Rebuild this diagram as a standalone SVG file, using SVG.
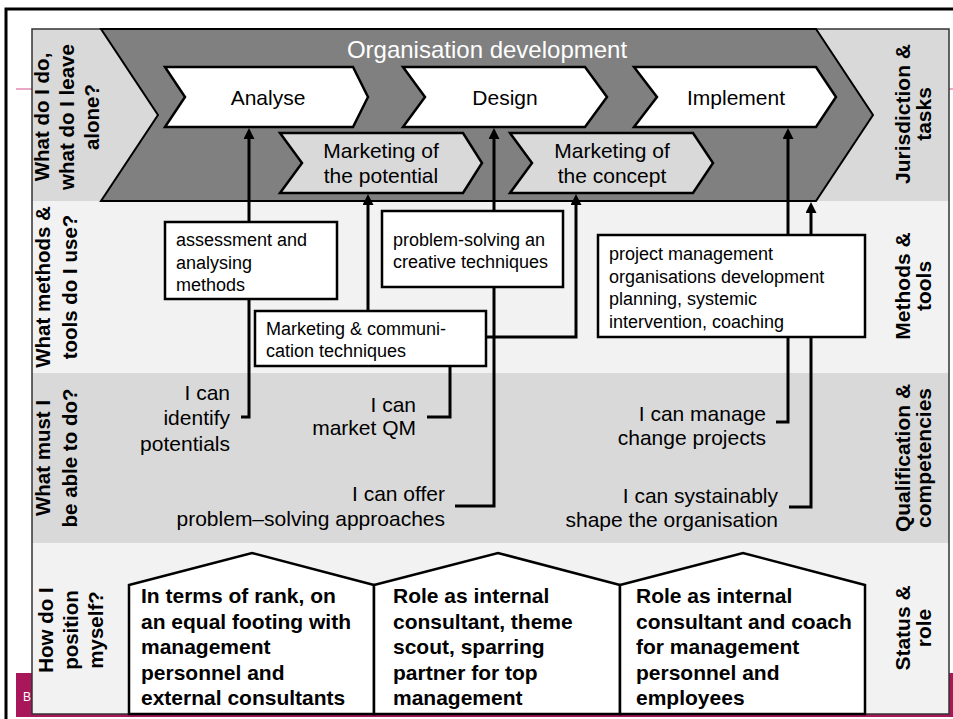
<svg xmlns="http://www.w3.org/2000/svg" width="953" height="719" viewBox="0 0 953 719">
<style>
text{font-family:"Liberation Sans",Arial,sans-serif;fill:#000}
.lbl{font-size:20.5px;font-weight:bold}
.rlbl{font-size:21px;font-weight:bold}
.t21{font-size:21px}
.t18{font-size:18px}
.house{font-size:21px;font-weight:bold}
.chev{fill:#fff;stroke:#000;stroke-width:2.5;stroke-linejoin:miter}
.mchev{fill:#d9d9d9;stroke:#000;stroke-width:2.5}
.box{fill:#fff;stroke:#000;stroke-width:2.5}
.conn{fill:none;stroke:#000;stroke-width:3}
</style>
<defs>
<marker id="ah" markerUnits="userSpaceOnUse" markerWidth="12" markerHeight="12" refX="0" refY="5.5" orient="auto">
<path d="M0,0 L11,5.5 L0,11 z" fill="#000"/>
</marker>
</defs>
<rect width="953" height="719" fill="#fff"/>
<g id="frame">
<rect x="16" y="673" width="940" height="44" fill="#a8175a"/>
<text x="23" y="701" style="font-size:12px;fill:#fff">B</text>
<line x1="16" y1="89" x2="953" y2="89" stroke="#d0508c" stroke-width="1"/>
<rect x="6" y="9" width="960" height="720" fill="none" stroke="#000" stroke-width="3"/>
<rect x="32" y="29" width="917" height="172" fill="#d9d9d9"/>
<rect x="32" y="201" width="917" height="172" fill="#f2f2f2"/>
<rect x="32" y="373" width="917" height="170" fill="#d9d9d9"/>
<rect x="32" y="543" width="917" height="171" fill="#f2f2f2"/>
<rect x="32" y="29" width="917" height="685" fill="none" stroke="#333" stroke-width="1.5"/>
</g>
<g id="row-labels">
<text class="lbl" text-anchor="middle" transform="translate(49,117) rotate(-90)"><tspan x="0" y="0">What do I do,</tspan><tspan x="0" y="25">what do I leave</tspan><tspan x="0" y="50">alone?</tspan></text>
<text class="lbl" text-anchor="middle" transform="translate(50,287) rotate(-90)"><tspan x="0" y="0">What methods &amp;</tspan><tspan x="0" y="27">tools do I use?</tspan></text>
<text class="lbl" text-anchor="middle" transform="translate(50,458) rotate(-90)"><tspan x="0" y="0">What must I</tspan><tspan x="0" y="27">be able to do?</tspan></text>
<text class="lbl" text-anchor="middle" transform="translate(53,630) rotate(-90)"><tspan x="0" y="0">How do I</tspan><tspan x="0" y="25">position</tspan><tspan x="0" y="50">myself?</tspan></text>
<text class="rlbl" text-anchor="middle" transform="translate(910,114) rotate(-90)"><tspan x="0" y="0">Jurisdiction &amp;</tspan><tspan x="0" y="21">tasks</tspan></text>
<text class="rlbl" text-anchor="middle" transform="translate(910,286) rotate(-90)"><tspan x="0" y="0">Methods &amp;</tspan><tspan x="0" y="21">tools</tspan></text>
<text class="rlbl" text-anchor="middle" transform="translate(910,458) rotate(-90)"><tspan x="0" y="0">Qualification &amp;</tspan><tspan x="0" y="21">competencies</tspan></text>
<text class="rlbl" text-anchor="middle" transform="translate(910,628) rotate(-90)"><tspan x="0" y="0">Status &amp;</tspan><tspan x="0" y="21">role</tspan></text>
</g>
<g id="org-development">
<polygon points="101,29 816,29 873,115 816,201 101,201 158,115" fill="#808080" stroke="#000" stroke-width="2"/>
<text x="487" y="58" text-anchor="middle" style="font-size:24px;fill:#fff">Organisation development</text>
</g>
<g id="analyse">
<polygon class="chev" points="165,67 353,67 368,97 353,127 165,127 185,97"/>
<text class="t21" x="268" y="105" text-anchor="middle">Analyse</text>
</g>
<g id="design">
<polygon class="chev" points="403,67 585,67 607,97 585,127 403,127 425,97"/>
<text class="t21" x="505" y="105" text-anchor="middle">Design</text>
</g>
<g id="implement">
<polygon class="chev" points="634,67 816,67 836,97 816,127 634,127 657,97"/>
<text class="t21" x="736" y="105" text-anchor="middle">Implement</text>
</g>
<g id="marketing-potential">
<polygon class="mchev" points="280,133 463,133 482,163 463,193 280,193 302,163"/>
<text class="t21" x="381" y="158" text-anchor="middle">Marketing of</text>
<text class="t21" x="381" y="183" text-anchor="middle">the potential</text>
</g>
<g id="marketing-concept">
<polygon class="mchev" points="510,133 693,133 713,163 693,193 510,193 532,163"/>
<text class="t21" x="612" y="158" text-anchor="middle">Marketing of</text>
<text class="t21" x="612" y="183" text-anchor="middle">the concept</text>
</g>
<g id="connectors">
<path class="conn" d="M241,417 H249 V139" marker-end="url(#ah)"/>
<path class="conn" d="M368,311 V205" marker-end="url(#ah)"/>
<path class="conn" d="M486,337 H576 V205" marker-end="url(#ah)"/>
<path class="conn" d="M427,417 H450 V366"/>
<path class="conn" d="M455,506 H494 V139" marker-end="url(#ah)"/>
<path class="conn" d="M776,422 H788 V139" marker-end="url(#ah)"/>
<path class="conn" d="M789,507 H811 V213" marker-end="url(#ah)"/>
</g>
<g id="assessment-box">
<rect class="box" x="165" y="222" width="172" height="77"/>
<text class="t18" x="176" y="246">assessment and</text>
<text class="t18" x="176" y="268.5">analysing</text>
<text class="t18" x="176" y="291">methods</text>
</g>
<g id="problem-solving-box">
<rect class="box" x="382" y="211" width="181" height="76"/>
<text class="t18" x="393" y="246">problem-solving an</text>
<text class="t18" x="393" y="268">creative techniques</text>
</g>
<g id="marketing-comm-box">
<rect class="box" x="255" y="311" width="231" height="55"/>
<text class="t18" x="266" y="335">Marketing &amp; communi-</text>
<text class="t18" x="266" y="357">cation techniques</text>
</g>
<g id="project-box">
<rect class="box" x="598" y="235" width="267" height="102"/>
<text class="t18" x="609" y="260">project management</text>
<text class="t18" x="609" y="282.5">organisations development</text>
<text class="t18" x="609" y="305">planning, systemic</text>
<text class="t18" x="609" y="328">intervention, coaching</text>
</g>
<g id="competencies">
<text class="t21" text-anchor="end" x="230" y="400">I can</text>
<text class="t21" text-anchor="end" x="230" y="425">identify</text>
<text class="t21" text-anchor="end" x="230" y="451">potentials</text>
<text class="t21" text-anchor="end" x="416" y="412">I can</text>
<text class="t21" text-anchor="end" x="416" y="435">market QM</text>
<text class="t21" text-anchor="end" x="445" y="501">I can offer</text>
<text class="t21" text-anchor="end" x="445" y="526">problem–solving approaches</text>
<text class="t21" text-anchor="end" x="766" y="421">I can manage</text>
<text class="t21" text-anchor="end" x="766" y="445">change projects</text>
<text class="t21" text-anchor="end" x="778" y="503">I can systainably</text>
<text class="t21" text-anchor="end" x="778" y="527">shape the organisation</text>
</g>
<g id="house-1">
<polygon class="box" points="129,714 129,585 252,553 374,585 374,714"/>
<text class="house" x="141" y="603">In terms of rank, on</text>
<text class="house" x="141" y="628.5">an equal footing with</text>
<text class="house" x="141" y="654">management</text>
<text class="house" x="141" y="679.5">personnel and</text>
<text class="house" x="141" y="705">external consultants</text>
</g>
<g id="house-2">
<polygon class="box" points="374,714 374,585 498,553 620,585 620,714"/>
<text class="house" x="393" y="603">Role as internal</text>
<text class="house" x="393" y="628.5">consultant, theme</text>
<text class="house" x="393" y="654">scout, sparring</text>
<text class="house" x="393" y="679.5">partner for top</text>
<text class="house" x="393" y="705">management</text>
</g>
<g id="house-3">
<polygon class="box" points="620,714 620,585 743,553 865,585 865,714"/>
<text class="house" x="636" y="603">Role as internal</text>
<text class="house" x="636" y="628.5">consultant and coach</text>
<text class="house" x="636" y="654">for management</text>
<text class="house" x="636" y="679.5">personnel and</text>
<text class="house" x="636" y="705">employees</text>
</g>
</svg>
